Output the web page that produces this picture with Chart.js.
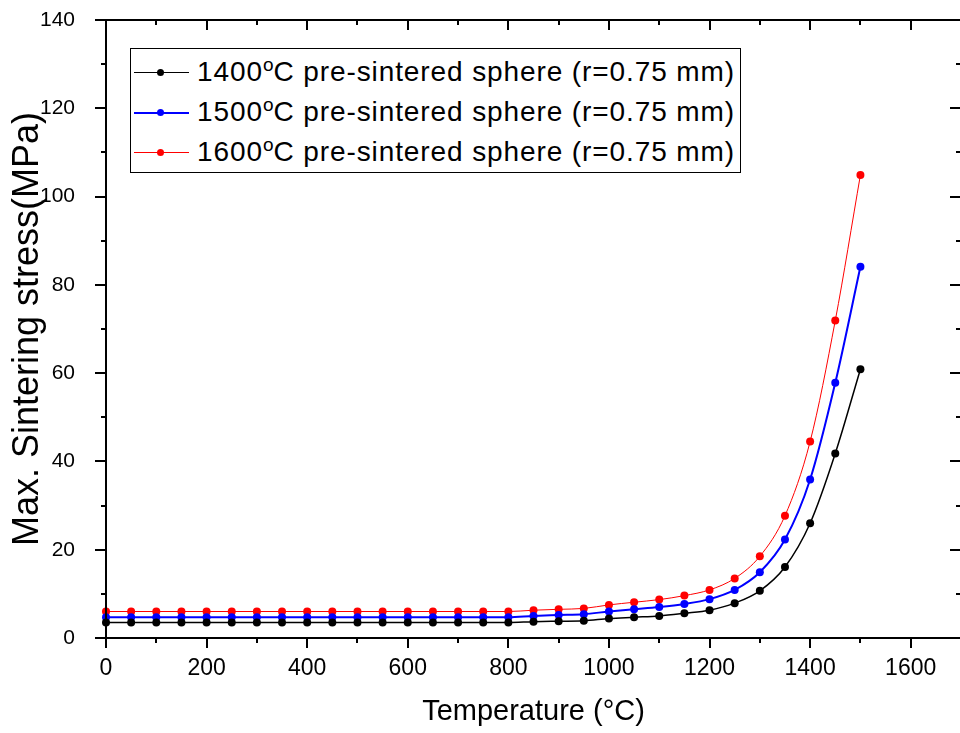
<!DOCTYPE html>
<html>
<head>
<meta charset="utf-8">
<script src="https://cdn.jsdelivr.net/npm/chart.js@4.4.1/dist/chart.umd.min.js"></script>
<style>
  body { margin: 0; background: #fff; overflow: hidden; }
  #wrap { position: relative; width: 960px; height: 733px; overflow: hidden; }
  #legend {
    position: absolute; left: 130px; top: 48px; width: 609px; height: 123px;
    border: 1px solid #000; background: #fff;
    font-family: "Liberation Sans", Arial, sans-serif; font-size: 28px; letter-spacing: 0.9px; color: #000;
  }
  .row { position: absolute; left: 0; height: 40px; line-height: 40px; white-space: nowrap; }
  .swatch { position: absolute; left: 3px; top: 20px; width: 55px; height: 0; border-top-style: solid; }
  .dot { position: absolute; left: 26px; top: 17px; width: 7px; height: 7px; border-radius: 50%; }
  .txt { position: absolute; left: 66px; top: 0; }
  sup { font-size: 19px; vertical-align: 10px; line-height: 0; letter-spacing: 0; }
</style>
</head>
<body>
<div id="wrap">
  <canvas id="myStressChart" width="965" height="733"></canvas>
  <div id="legend"></div>
</div>
<script>
// temperatures (°C)
var temps = [0, 50, 100, 150, 200, 250, 300, 350, 400, 450, 500, 550, 600, 650, 700, 750, 800,
             850, 900, 950, 1000, 1050, 1100, 1150, 1200, 1250, 1300, 1350, 1400, 1450, 1500];

// max. sintering stress (MPa)
var stress1400 = [3.5, 3.5, 3.5, 3.5, 3.5, 3.5, 3.5, 3.5, 3.5, 3.5, 3.5, 3.5, 3.5, 3.5, 3.5, 3.5, 3.5,
                  3.7, 3.8, 3.9, 4.4, 4.7, 5.0, 5.6, 6.3, 7.9, 10.7, 16.1, 26.0, 41.8, 60.9];
var stress1500 = [4.7, 4.7, 4.7, 4.7, 4.7, 4.7, 4.7, 4.7, 4.7, 4.7, 4.7, 4.7, 4.7, 4.7, 4.7, 4.7, 4.7,
                  5.0, 5.2, 5.4, 6.0, 6.5, 7.0, 7.7, 8.8, 10.9, 14.9, 22.3, 35.9, 57.8, 84.1];
var stress1600 = [6.0, 6.0, 6.0, 6.0, 6.0, 6.0, 6.0, 6.0, 6.0, 6.0, 6.0, 6.0, 6.0, 6.0, 6.0, 6.0, 6.0,
                  6.3, 6.5, 6.7, 7.5, 8.1, 8.7, 9.6, 10.9, 13.5, 18.5, 27.7, 44.5, 71.9, 104.9];

var seriesNames = ['1400', '1500', '1600'];
var seriesColors = ['#000000', '#0000ff', '#ff0000'];
var seriesWidths = [1.5, 2, 1];

var xTicks = [0, 200, 400, 600, 800, 1000, 1200, 1400, 1600];
var yTicks = [0, 20, 40, 60, 80, 100, 120, 140];

function toPoints(vals) {
    var pts = [];
    for (var i = 0; i < temps.length; i++) {
        pts.push({x: temps[i], y: vals[i]});
    }
    return pts;
}

var allSeries = [stress1400, stress1500, stress1600];
var datasets = [];
for (var i = 0; i < allSeries.length; i++) {
    datasets.push({
        label: seriesNames[i] + '\u1D52C pre-sintered sphere (r=0.75 mm)',
        data: toPoints(allSeries[i]),
        borderColor: seriesColors[i],
        backgroundColor: seriesColors[i],
        borderWidth: seriesWidths[i],
        pointRadius: 4,
        pointHoverRadius: 4,
        pointBorderWidth: 0,
        cubicInterpolationMode: 'monotone',
        clip: false
    });
}

// legend as html (box sits inside the plot)
var legendHtml = '';
for (var i = 0; i < seriesNames.length; i++) {
    legendHtml += '<div class="row" style="top:' + (3 + i * 40) + 'px">' +
        '<div class="swatch" style="border-top-width:' + seriesWidths[i] + 'px;border-top-color:' + seriesColors[i] + '"></div>' +
        '<div class="dot" style="background:' + seriesColors[i] + '"></div>' +
        '<div class="txt">' + seriesNames[i] + '<sup>o</sup>C pre-sintered sphere (r=0.75 mm)</div></div>';
}
document.getElementById('legend').innerHTML = legendHtml;

// frame + major/minor ticks, in/out like the original plot
var frameTicks = {
    id: 'frameTicks',
    afterDraw: function(chart) {
        var ctx = chart.ctx, a = chart.chartArea;
        var xs = chart.scales.x, ys = chart.scales.y;
        ctx.save();
        ctx.strokeStyle = '#000';
        ctx.lineWidth = 2;
        ctx.beginPath();
        ctx.moveTo(a.left, a.top);
        ctx.lineTo(a.left, a.bottom + 1);
        ctx.moveTo(a.left - 1, a.bottom);
        ctx.lineTo(a.right, a.bottom);
        ctx.moveTo(a.left - 1, a.top);
        ctx.lineTo(a.right, a.top);
        ctx.stroke();

        ctx.beginPath();
        for (var v = xs.min; v <= xs.max; v += 100) {
            var px = Math.round(xs.getPixelForValue(v));
            var len = (v % 200 === 0) ? 10 : 5;
            ctx.moveTo(px, a.bottom);
            ctx.lineTo(px, a.bottom + len);
            ctx.moveTo(px, a.top);
            ctx.lineTo(px, a.top + len);
        }
        for (var w = ys.min; w <= ys.max; w += 10) {
            var py = Math.round(ys.getPixelForValue(w));
            var l2 = (w % 20 === 0) ? 11 : 5;
            ctx.moveTo(a.left, py);
            ctx.lineTo(a.left - l2, py);
            ctx.moveTo(a.right, py);
            ctx.lineTo(a.right - l2, py);
        }
        ctx.stroke();
        ctx.restore();
    }
};

var ctx = document.getElementById('myStressChart').getContext('2d');
var stressChart = new Chart(ctx, {
    type: 'line',
    data: { datasets: datasets },
    plugins: [frameTicks],
    options: {
        responsive: false,
        animation: false,
        layout: { padding: { top: 20, right: 0, left: 0, bottom: 0 } },
        plugins: {
            legend: { display: false },
            tooltip: { enabled: false }
        },
        scales: {
            x: {
                type: 'linear',
                min: 0,
                max: 1700,
                border: { display: false },
                grid: { display: false },
                afterBuildTicks: function(s) { s.ticks = xTicks.map(function(v) { return {value: v}; }); },
                afterFit: function(s) { s.height = 95; s.paddingLeft = 0; s.paddingRight = 0; },
                ticks: {
                    padding: 9,
                    color: '#000',
                    maxRotation: 0,
                    callback: function(v) { return String(v); },
                    font: { family: '"Liberation Sans", Arial', size: 23 }
                },
                title: {
                    display: true,
                    text: 'Temperature (\u00B0C)',
                    color: '#000',
                    padding: { top: 8 },
                    font: { family: '"Liberation Sans", Arial', size: 29 }
                }
            },
            y: {
                min: 0,
                max: 140,
                border: { display: false },
                grid: { display: false },
                afterBuildTicks: function(s) { s.ticks = yTicks.map(function(v) { return {value: v}; }); },
                afterFit: function(s) { s.width = 106; s.paddingTop = 0; s.paddingBottom = 0; },
                ticks: {
                    padding: 23,
                    color: '#000',
                    font: { family: '"Liberation Sans", Arial', size: 21 }
                },
                title: {
                    display: true,
                    text: 'Max. Sintering stress(MPa)',
                    color: '#000',
                    padding: { top: 6, bottom: 0 },
                    font: { family: '"Liberation Sans", Arial', size: 36 }
                }
            }
        }
    }
});
</script>
</body>
</html>
